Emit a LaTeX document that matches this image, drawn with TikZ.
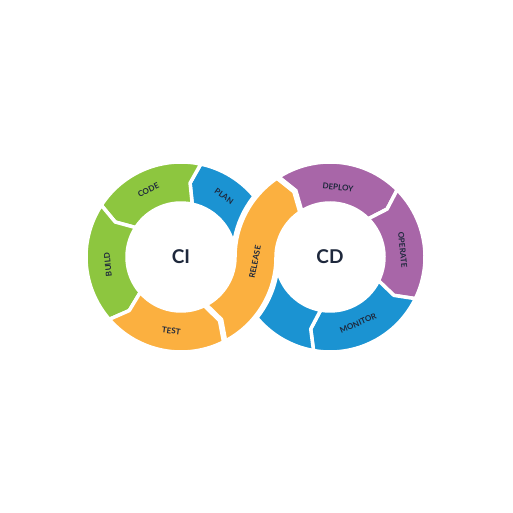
\documentclass[tikz,border=0pt]{standalone}
\usepackage{fontspec}
\setmainfont{Lato}
\usetikzlibrary{calc}
\definecolor{cgreen}{RGB}{141,198,63}
\definecolor{cblue}{RGB}{27,147,210}
\definecolor{corange}{RGB}{251,176,64}
\definecolor{cpurple}{RGB}{168,102,168}
\definecolor{ctext}{RGB}{30,40,60}
\def\Ro{95pt}
\def\Ri{54pt}
\def\Rm{74.5pt}
\tikzset{
  seg/.style={draw=white, line width=3.5pt, line join=round},
  lab/.style={text=ctext, font=\fontsize{8}{9}\selectfont\bfseries, inner sep=0pt},
  big/.style={text=ctext, font=\fontsize{19}{20}\selectfont\bfseries, inner sep=0pt}
}
% #1 center coordinate name, #2 start angle, #3 end angle, #4 tip offset, #5 colour
\newcommand\ringseg[5]{%
  \path[seg, fill=#5] ($(#1)+(#2:\Ro)$) -- ($(#1)+({#2+#4}:\Rm)$) -- ($(#1)+(#2:\Ri)$)
    arc[start angle=#2, end angle=#3, radius=\Ri]
    -- ($(#1)+({#3+#4}:\Rm)$) -- ($(#1)+(#3:\Ro)$)
    arc[start angle=#3, end angle=#2, radius=\Ro] -- cycle;}
\begin{document}
\begin{tikzpicture}
\useasboundingbox[fill=white] (0pt,0pt) rectangle (512pt,513pt);
\coordinate (L) at (181pt,256pt);
\coordinate (R) at (330pt,256pt);
% left ring (CI)
\ringseg{L}{0}{78}{5}{cblue}
\ringseg{L}{78}{147}{5}{cgreen}
\ringseg{L}{147}{221}{5}{cgreen}
\ringseg{L}{221}{298}{5}{corange}
% right ring (CD)
\ringseg{R}{124}{45}{-5}{cpurple}
\ringseg{R}{45}{-26}{-5}{cpurple}
\ringseg{R}{334}{260}{-5}{cblue}
\ringseg{R}{260}{182}{-5}{cblue}
% release band on top
\path[seg, fill=corange, preaction={draw=white, line width=8pt}]
  ($(L)+(298:\Ro)$) -- ($(L)+(303:\Rm)$) -- ($(L)+(298:\Ri)$)
  arc[start angle=298, end angle=360, radius=\Ri]
  arc[start angle=180, end angle=124, radius=\Ro]
  -- ($(R)+(119:\Rm)$) -- ($(R)+(124:\Ri)$)
  arc[start angle=124, end angle=180, radius=\Ri]
  arc[start angle=0, end angle=-62, radius=\Ro] -- cycle;
% labels
\node[big] (ci) at (L) {CI};
\node[big] (cd) at (R) {CD};
\node[lab, rotate=26] (code) at ($(L)+(116:74.5pt)$) {CODE};
\node[lab, rotate=-35] (plan) at ($(L)+(54.6:74.5pt)$) {PLAN};
\node[lab, rotate=96] (build) at ($(L)+(186:73.5pt)$) {BUILD};
\node[lab, rotate=-7.5] (test) at ($(L)+(262.5:74.5pt)$) {TEST};
\node[lab, rotate=79] (release) at (255pt,251pt) {RELEASE};
\node[lab, rotate=-6.6] (deploy) at ($(R)+(83.4:70pt)$) {DEPLOY};
\node[lab, rotate=-84.4] (operate) at ($(R)+(5.6:73pt)$) {OPERATE};
\node[lab, rotate=23] (monitor) at ($(R)+(293:72pt)$) {MONITOR};
\end{tikzpicture}
\end{document}
